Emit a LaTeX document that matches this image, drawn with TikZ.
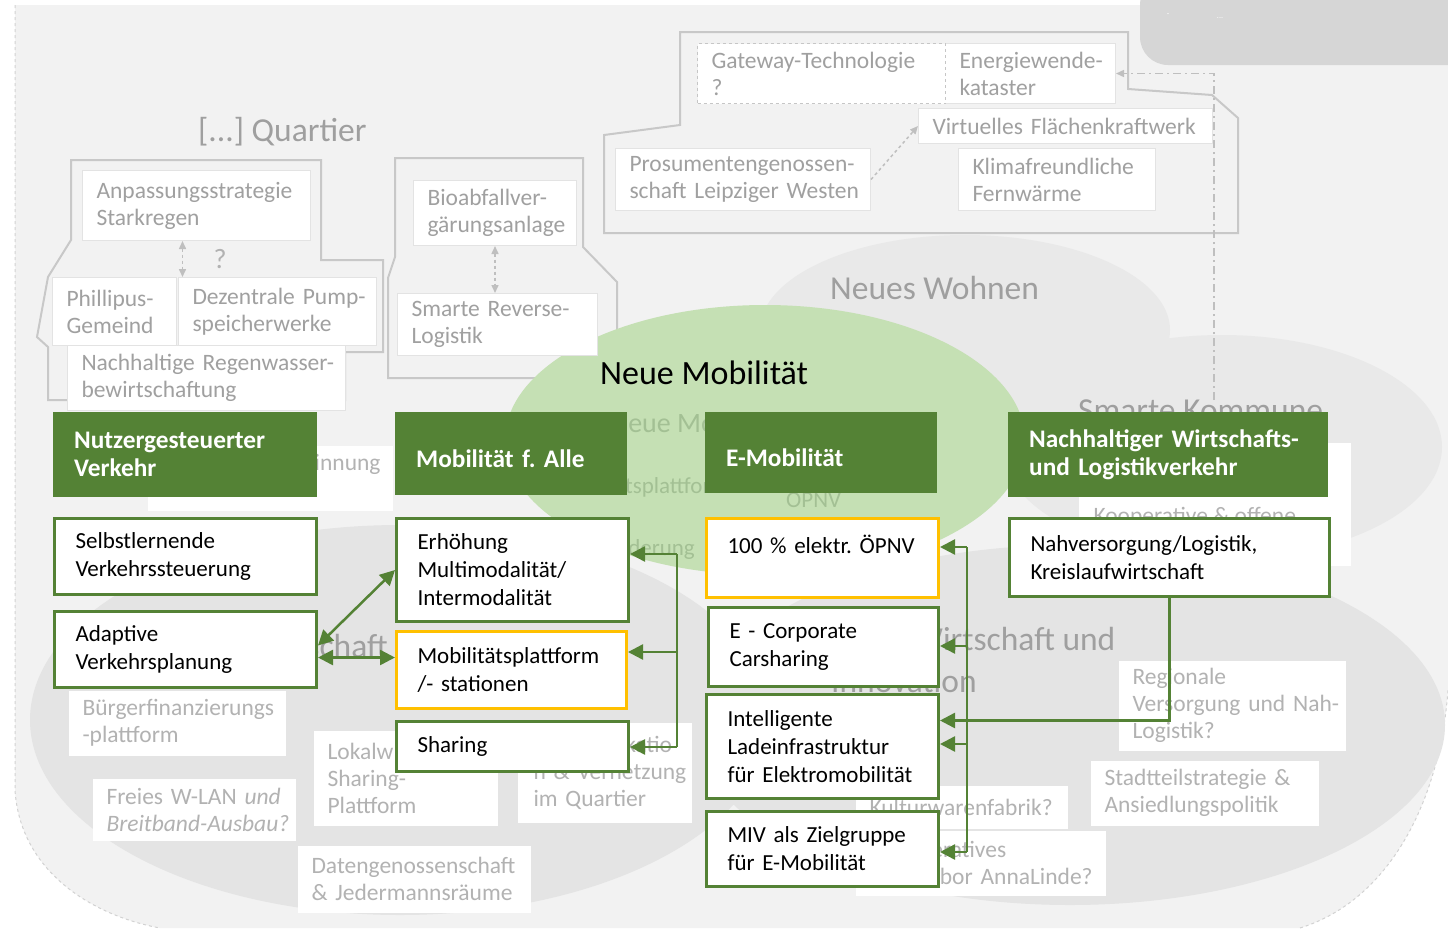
\documentclass[tikz,border=0pt]{standalone}
\usepackage{fontspec}
\setmainfont{Carlito}
\usetikzlibrary{positioning,arrows.meta}
\hyphenpenalty=10000
\exhyphenpenalty=10000
\frenchspacing

\definecolor{mgreen}{RGB}{84,130,53}
\definecolor{lgreen}{RGB}{197,224,180}
\definecolor{myellow}{RGB}{255,192,0}
\definecolor{bggray}{RGB}{242,242,242}
\definecolor{elgray}{RGB}{233,233,233}
\definecolor{elgrayb}{RGB}{228,228,228}
\definecolor{olgray}{RGB}{200,200,200}
\definecolor{ghtext}{RGB}{160,160,160}
\definecolor{ghlow}{RGB}{178,178,178}
\definecolor{ghgreen}{RGB}{163,192,148}
\definecolor{topgray}{RGB}{214,214,214}

\begin{document}
\begin{tikzpicture}
[
  x=1pt, y=-1pt,
  font=\fontsize{23}{28}\selectfont,
  hdr/.style={fill=mgreen, text=white, font=\fontsize{25.3}{28}\selectfont\bfseries,
    anchor=north west, align=left, inner xsep=21pt, inner ysep=0pt},
  mbox/.style={draw=mgreen, line width=3pt, fill=white, anchor=north west,
    align=left, inner xsep=21pt, inner ysep=0pt},
  ybox/.style={mbox, draw=myellow},
  ghost/.style={fill=white, draw=gray!22, line width=1pt, text=ghtext,
    font=\fontsize{23.5}{27}\selectfont, anchor=north west, align=left,
    inner xsep=14pt, inner ysep=0pt},
  ghostlow/.style={ghost, draw=none, text=ghlow},
  biglabel/.style={text=gray!75, font=\fontsize{33.5}{38}\selectfont, anchor=base west, inner sep=0pt},
  gline/.style={olgray, line width=2pt},
  gstem/.style={mgreen, line width=2.5pt},
  garr/.style={mgreen, line width=2.5pt, -{Triangle[length=15pt,width=15pt]}},
  gdbl/.style={mgreen, line width=2.5pt, {Triangle[length=15pt,width=15pt]}-{Triangle[length=15pt,width=15pt]}},
  darr/.style={gray!50, line width=1.5pt, dashed, {Triangle[length=8pt,width=7pt]}-{Triangle[length=8pt,width=7pt]}}
]
\useasboundingbox (0,0) rectangle (1448,932);

% background
\fill[white] (0,0) rectangle (1448,932);
\fill[bggray] (15,5) -- (15,790) .. controls (20,870) and (90,915) .. (160,928) -- (1300,928)
  .. controls (1390,900) and (1440,800) .. (1448,690) -- (1448,5) -- cycle;
\draw[dashed, gray!35, line width=1pt] (15,5) -- (15,790) .. controls (20,870) and (90,915) .. (160,928);
\draw[dashed, gray!35, line width=1pt] (1300,928) .. controls (1390,900) and (1440,800) .. (1448,690);
\fill[topgray, rounded corners=28pt] (1140,-23) rectangle (1490,65);
\node[text=white, font=\fontsize{8}{8}\selectfont] (tDash) at (1168,15) {-};
\node[text=white, font=\fontsize{8}{8}\selectfont] (tDots) at (1220,18) {...};

% fields
\fill[elgray] (965,330) ellipse [x radius=205pt, y radius=95pt];
\fill[elgray] (1222,447) ellipse [x radius=220pt, y radius=112pt];
\fill[elgrayb] (400,720) ellipse [x radius=370pt, y radius=195pt];
\fill[elgrayb] (1070,725) ellipse [x radius=375pt, y radius=180pt];

% Quartier groups
\draw[gline] (71,160) -- (321,160) -- (321,260) -- (383,260) -- (383,352) -- (345,352)
  -- (345,400) -- (48,400) -- (48,347) -- (37,337) -- (48,277) -- (71,240) -- cycle;
\draw[gline] (395,158) -- (583,158) -- (583,247) -- (617,282) -- (617,378) -- (388,378)
  -- (388,278) -- (395,257) -- cycle;
\draw[gline] (680,32) -- (1128,32) -- (1128,89) -- (1212,95) -- (1238,118) -- (1238,233)
  -- (604,233) -- (604,135) -- (680,125) -- cycle;

\fill[lgreen] (765,440) ellipse [x radius=260pt, y radius=135pt];

\node[biglabel] (lQuart) at (198,141) {[...] Quartier};
\node[biglabel] (lWohn) at (830,299) {Neues Wohnen};
\node[biglabel] (lKomm) at (1078,421) {Smarte Kommune};
\node[biglabel, anchor=base east] (lGem) at (388,657) {schaft};
\node[biglabel] (lWirt) at (913,650) {Wirtschaft und};
\node[biglabel] (lInno) at (831,692) {Innovation};
\node[biglabel, text=black, font=\fontsize{34}{38}\selectfont] (lMob) at (600,384) {Neue Mobilität};

\node[ghost, text width=200pt, minimum height=70pt] (gAnp) at (82,170) {Anpassungsstrategie\\Starkregen};
\node[ghost, text width=96pt, minimum height=68pt] (gPhil) at (52,277) {Phillipus-\\Gemeind};
\node[ghost, text width=170pt, minimum height=68pt] (gPump) at (178,277) {Dezentrale~Pump-\\speicherwerke};
\node[ghost, text width=250pt, minimum height=65pt] (gRegen) at (67,345) {Nachhaltige~Regenwasser-\\bewirtschaftung};
\coordinate (qA) at ([xshift=-14pt]gAnp.south);
\draw[darr] (qA) -- (qA |- gPump.north);
\node[text=gray!60, font=\fontsize{28}{30}\selectfont] (qMark) at (220,259) {?};

\node[ghost, text width=135pt, minimum height=65pt] (gBio) at (413,180) {Bioabfallver-\\gärungsanlage};
\node[ghost, text width=172pt, minimum height=62pt] (gRev) at (397,293) {Smarte~Reverse-\\Logistik};
\draw[darr] (gBio.south) -- (gBio.south |- gRev.north);

\node[ghost, text width=142pt, minimum height=60pt] (gKat) at (945,43) {Energiewende-\\kataster};
\node[ghost, dashed, draw=gray!45, text width=220pt, minimum height=60pt] (gGate) at (697,43) {Gateway-Technologie\\?};
\node[ghost, text width=266pt, minimum height=35pt] (gVirt) at (918,108) {Virtuelles Flächenkraftwerk};
\node[ghost, text width=227pt, minimum height=62pt] (gPros) at (615,148) {Prosumentengenossen-\\schaft~Leipziger~Westen};
\node[ghost, text width=169pt, minimum height=62pt] (gKlima) at (958,148) {Klimafreundliche\\Fernwärme};
\draw[gray!50, line width=1.5pt, dashed, -{Triangle[length=8pt,width=7pt]}] (gPros.east) -- (gVirt.west);
\coordinate (kD) at (1214,400);
\draw[gray!50, line width=1.5pt, dash pattern=on 8pt off 4pt on 2pt off 4pt, -{Triangle[length=8pt,width=7pt]}] (kD) |- (gKat.east);

% ghost items, lower part
\node[ghostlow, text width=217pt, minimum height=65pt] (gEnerg) at (147,445) {};
\node[ghostlow, anchor=base east, inner sep=0pt] (tEnerg) at (381,470) {Energiegewinnung};
\node[ghostlow, text width=244pt, minimum height=123pt] (gKoop) at (1078,442) {};
\node[ghostlow, anchor=base west, inner sep=0pt] (tKoop) at (1093,523) {Kooperative \& offene};
\node[ghostlow, text width=189pt, minimum height=65pt] (gBuerg) at (68,690) {Bürgerfinanzierungs\\-plattform};
\node[ghostlow, text width=175pt, minimum height=62pt] (gWlan) at (92,778) {Freies~W-LAN~\textit{und}\\\textit{Breitband-Ausbau?}};
\node[ghostlow, text width=156pt, minimum height=95pt] (gLokal) at (313,730) {Lokalw\\Sharing-\\Plattform};
\node[ghostlow, inner xsep=16pt, text width=142pt, minimum height=100pt] (gVern) at (517,722) {Kommunikatio\\n~\&~Vernetzung\\im Quartier};
\node[ghostlow, text width=205pt, minimum height=67pt] (gDaten) at (297,845) {Datengenossenschaft\\\& Jedermannsräume};
\node[ghostlow, text width=184pt, minimum height=43pt] (gKult) at (855,785) {Kulturwarenfabrik?};
\node[ghostlow, inner xsep=27pt, text width=196pt, minimum height=65pt] (gReal) at (855,830) {Kooperatives\\Reallabor~AnnaLinde?};
\node[ghostlow, text width=199pt, minimum height=90pt] (gReg) at (1118,660) {Regionale\\Versorgung~und~Nah-\\Logistik?};
\node[ghostlow, text width=200pt, minimum height=65pt] (gStadt) at (1090,760) {Stadtteilstrategie \&\\Ansiedlungspolitik};

% ghost items inside Neue Mobilitaet
\node[anchor=base west, inner sep=0pt, text=ghgreen, font=\fontsize{28}{32}\selectfont] (tNeue) at (610,432) {Neue Mobilität};
\node[anchor=base west, inner sep=0pt, text=ghgreen] (tPlatt) at (547,493) {Mobilitätsplattform};
\node[anchor=base west, inner sep=0pt, text=ghgreen] (tFoerd) at (598,555) {Förderung};
\node[anchor=base west, inner sep=0pt, text=ghgreen] (tOePNV) at (786,507) {ÖPNV};

% headers
\node[hdr, text width=222pt, minimum height=85pt] (hNutz) at (53,412) {Nutzergesteuerter\\Verkehr};
\node[hdr, text width=190pt, minimum height=83pt] (hAlle) at (395,412) {\mbox{}\\Mobilität f. Alle};
\node[hdr, text width=190pt, minimum height=81pt] (hEmob) at (705,412) {\mbox{}\\E-Mobilität};
\node[hdr, text width=278pt, minimum height=85pt] (hNach) at (1008,412) {Nachhaltiger~Wirtschafts-\\und Logistikverkehr};

% measures
\node[mbox, text width=220pt, minimum height=76pt] (bSelbst) at (53,517) {Selbstlernende\\Verkehrssteuerung};
\node[mbox, text width=220pt, minimum height=76pt] (bAdapt) at (53,610) {Adaptive\\Verkehrsplanung};
\node[mbox, text width=190pt, minimum height=103pt] (bErh) at (395,517) {Erhöhung\\Multimodalität/\\Intermodalität};
\node[ybox, text width=188pt, minimum height=77pt] (bPlatt) at (395,630) {Mobilitätsplattform\\/- stationen};
\node[mbox, text width=190pt, minimum height=50pt] (bShare) at (395,720) {Sharing};
\node[ybox, text width=190pt, minimum height=79pt] (bOePNV) at (705,517) {100 \% elektr. ÖPNV\\\mbox{}};
\node[mbox, text width=188pt, minimum height=79pt] (bCorp) at (707,606) {E - Corporate\\Carsharing};
\node[mbox, text width=190pt, minimum height=104pt] (bLade) at (705,693) {Intelligente\\Ladeinfrastruktur\\für~Elektromobilität};
\node[mbox, text width=190pt, minimum height=75pt] (bMIV) at (705,810) {MIV als Zielgruppe\\für~E-Mobilität};
\node[mbox, text width=278pt, minimum height=78pt] (bNahv) at (1008,517) {Nahversorgung/Logistik,\\Kreislaufwirtschaft};

% connectors
\coordinate (pA) at ([yshift=4pt]bAdapt.east);
\coordinate (pB) at ([yshift=-8pt]bAdapt.east);
\draw[gdbl] (pA) -- (bErh.west);
\draw[gdbl] (pB) -- (pB -| bPlatt.west);

\coordinate (kA1) at (677,554);
\coordinate (kA2) at (677,652);
\coordinate (kA3) at (677,747);
\draw[gstem] (kA1) -- (kA3);
\draw[garr] (kA1) -- (kA1 -| bErh.east);
\draw[garr] (kA2) -- (kA2 -| bPlatt.east);
\draw[garr] (kA3) -- (kA3 -| bShare.east);

\coordinate (kB1) at (967,547);
\coordinate (kB2) at (967,646);
\coordinate (kB3) at (967,744);
\coordinate (kB4) at (967,852);
\draw[gstem] (kB1) -- (kB4);
\draw[garr] (kB1) -- (kB1 -| bOePNV.east);
\draw[garr] (kB2) -- (kB2 -| bCorp.east);
\draw[garr] (kB3) -- (kB3 -| bLade.east);
\draw[garr] (kB4) -- (kB4 -| bMIV.east);
\draw[garr] (bNahv.south) |- ([yshift=26pt]bLade.east);
\end{tikzpicture}
\end{document}
